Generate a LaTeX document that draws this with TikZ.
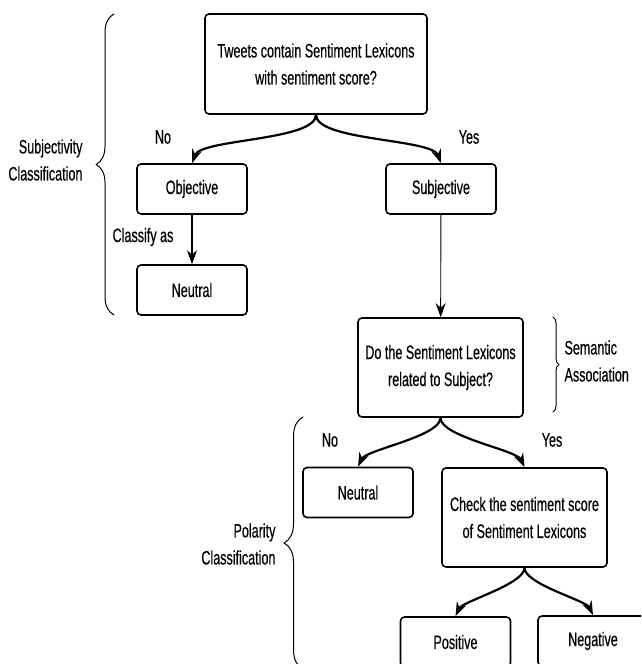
\documentclass[tikz,border=0pt]{standalone}
\usepackage{fontspec}
\setmainfont{Liberation Sans}[FakeStretch=0.645, FakeBold=0.4]
\usetikzlibrary{arrows.meta,decorations.pathreplacing}
\begin{document}
\begin{tikzpicture}[x=1pt, y=1pt, line cap=round, line join=round, >={Stealth[length=14pt,width=10pt]},
	font=\fontsize{19.5}{27}\selectfont,
	box/.style={draw, line width=1.6pt, rounded corners=4pt, inner sep=0pt, align=center, minimum width=110pt, minimum height=50pt},
	bigbox/.style={box, minimum width=165pt, minimum height=99pt},
	branch/.style={->, line width=2.2pt},
	bracket/.style={decorate, decoration={brace, amplitude=#1}, line width=1pt}]
	\clip (0,0) rectangle (641,664);
	% decision boxes
	\node[box, minimum width=222pt, minimum height=100pt] (top) at (316,600) {Tweets contain Sentiment Lexicons\\with sentiment score?};
	\node[box] (obj) at (192,475) {Objective};
	\node[box] (subj) at (441,475) {Subjective};
	\node[box] (neu1) at (192,374) {Neutral};
	\node[bigbox] (ques) at (440.5,296.5) {Do the Sentiment Lexicons\\related to Subject?};
	\node[box] (neu2) at (358,171.5) {Neutral};
	\node[bigbox] (check) at (524.5,146.5) {Check the sentiment score\\of Sentiment Lexicons};
	\node[box] (pos) at (455.5,22) {Positive};
	\node[box] (neg) at (593,23) {Negative};
	% labels
	\node (no1) at (163,527) {No};
	\node (yes1) at (469,527) {Yes};
	\node (cls) at (143,427) {Classify as};
	\node (no2) at (330,224) {No};
	\node (yes2) at (552,224) {Yes};
	\node[align=right, anchor=east] (subjcls) at (86,504) {Subjectivity\\Classification};
	\node[align=left, anchor=west] (sem) at (561,303) {Semantic\\Association};
	\node[align=right, anchor=east] (polcls) at (279,120) {Polarity\\Classification};
	% connectors
	\foreach \a/\b/\i in {top/obj/70, top/subj/110, ques/neu2/65, ques/check/115, check/pos/65, check/neg/115}
		\draw[branch] (\a.south) to[out=-90, in=\i, looseness=0.5] (\b.north);
	\draw[->, line width=1.4pt] (obj) -- (neu1);
	\draw[->, line width=0.9pt] (subj) -- (ques);
	% braces
	\draw[bracket=18pt] (114,349) -- (114,650);
	\draw[bracket=6pt] (553,347) -- (553,252);
	\draw[bracket=19pt] (303,-5) -- (303,247);
\end{tikzpicture}
\end{document}
